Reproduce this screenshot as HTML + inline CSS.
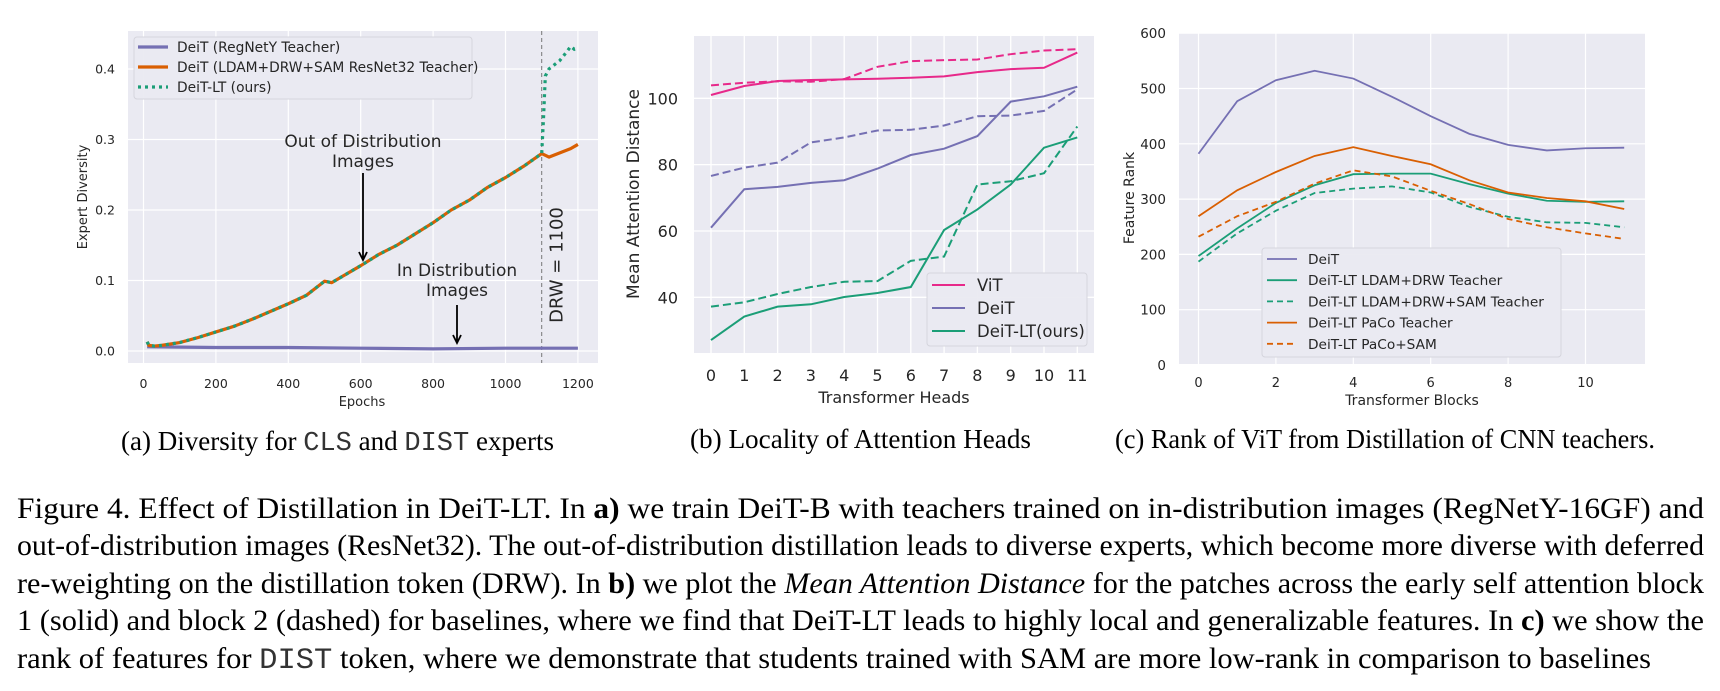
<!DOCTYPE html>
<html><head><meta charset="utf-8"><style>
html,body{margin:0;padding:0;background:#fff;}
svg{display:block;}
.tk{font-family:"DejaVu Sans","Liberation Sans",sans-serif;fill:#262626;}
.cap{font-family:"Liberation Serif",serif;fill:#000;}
.mono{font-family:"Liberation Mono",monospace;fill:#333;}
</style></head><body>
<svg id="fig" width="1720" height="691" viewBox="0 0 1720 691" xmlns="http://www.w3.org/2000/svg">
<g id="ga"></g>
<g id="gb"></g>
<g id="gc"></g>

<text class="cap" x="121" y="450" font-size="27" textLength="433" lengthAdjust="spacingAndGlyphs">(a) Diversity for <tspan class="mono">CLS</tspan> and <tspan class="mono">DIST</tspan> experts</text>
<text class="cap" x="690" y="448" font-size="27" textLength="341" lengthAdjust="spacingAndGlyphs">(b) Locality of Attention Heads</text>
<text class="cap" x="1115" y="448" font-size="27" textLength="540" lengthAdjust="spacingAndGlyphs">(c) Rank of ViT from Distillation of CNN teachers.</text>

<g font-size="29.5">
<text class="cap" x="17" y="518" textLength="1687" lengthAdjust="spacingAndGlyphs">Figure 4.  Effect of Distillation in DeiT-LT. In <tspan font-weight="bold">a)</tspan> we train DeiT-B with teachers trained on in-distribution images (RegNetY-16GF) and</text>
<text class="cap" x="17" y="555" textLength="1687" lengthAdjust="spacingAndGlyphs">out-of-distribution images (ResNet32). The out-of-distribution distillation leads to diverse experts, which become more diverse with deferred</text>
<text class="cap" x="17" y="593" textLength="1687" lengthAdjust="spacingAndGlyphs">re-weighting on the distillation token (DRW). In <tspan font-weight="bold">b)</tspan> we plot the <tspan font-style="italic">Mean Attention Distance</tspan> for the patches across the early self attention block</text>
<text class="cap" x="17" y="630" textLength="1687" lengthAdjust="spacingAndGlyphs">1 (solid) and block 2 (dashed) for baselines, where we find that DeiT-LT leads to highly local and generalizable features. In <tspan font-weight="bold">c)</tspan> we show the</text>
<text class="cap" x="17" y="668" textLength="1634" lengthAdjust="spacingAndGlyphs">rank of features for <tspan class="mono">DIST</tspan> token, where we demonstrate that students trained with SAM are more low-rank in comparison to baselines</text>
</g>
</svg>
<script>
// ---------- Chart A data ----------
const aEpochs = [10,15,30,50,100,150,200,250,300,350,400,450,500,520,550,600,650,700,750,800,850,900,950,1000,1050,1100];
const aShared = [0.013,0.008,0.007,0.008,0.012,0.019,0.027,0.035,0.045,0.056,0.067,0.079,0.099,0.097,0.106,0.121,0.137,0.150,0.166,0.182,0.200,0.214,0.232,0.246,0.262,0.280];
const aOrangeTailEpochs = [1100,1120,1150,1180,1200];
const aOrangeTail = [0.280,0.275,0.281,0.287,0.293];
const aGreenTailEpochs = [1100,1105,1110,1120,1150,1170,1180,1190,1200];
const aGreenTail = [0.285,0.330,0.390,0.400,0.412,0.425,0.432,0.428,0.430];
const aPurpleEpochs = [10,200,400,600,800,1000,1200];
const aPurple = [0.006,0.005,0.005,0.004,0.003,0.004,0.004];
const aXTicks = [0,200,400,600,800,1000,1200];
const aYTicks = [0.0,0.1,0.2,0.3,0.4];
const aLegend = ["DeiT (RegNetY Teacher)","DeiT (LDAM+DRW+SAM ResNet32 Teacher)","DeiT-LT (ours)"];

// ---------- Chart B data ----------
const bHeads = [0,1,2,3,4,5,6,7,8,9,10,11];
const bVitSolid = [101,103.7,105.2,105.5,105.7,105.9,106.2,106.6,107.9,108.8,109.2,113.8];
const bVitDashed = [103.9,104.7,105.1,105,105.8,109.5,111.2,111.5,111.7,113.3,114.4,114.8];
const bDeitSolid = [61,72.6,73.3,74.5,75.3,78.8,82.9,84.8,88.6,99,100.6,103.5];
const bDeitDashed = [76.6,79.1,80.6,86.7,88.2,90.3,90.5,91.8,94.6,94.8,96.2,102.7];
const bLtSolid = [27.1,34.2,37.2,37.9,40.1,41.3,43.1,60.3,66.5,74,85.1,88.2];
const bLtDashed = [37.2,38.5,41,43.1,44.7,44.9,51,52.3,74,75,77.4,91.5];
const bYTicks = [40,60,80,100];
const bLegend = ["ViT","DeiT","DeiT-LT(ours)"];

// ---------- Chart C data ----------
const cBlocks = [0,1,2,3,4,5,6,7,8,9,10,11];
const cDeit = [382,477,515,532,518,485,450,418,398,388,392,393];
const cLdam = [197,247,293,325,345,346,346,327,310,297,295,296];
const cLdamSam = [187,238,279,311,319,323,312,286,268,258,257,249];
const cPaco = [269,316,349,378,394,378,363,334,312,302,296,282];
const cPacoSam = [232,269,295,328,352,341,315,291,264,249,238,228];
const cXTicks = [0,2,4,6,8,10];
const cYTicks = [0,100,200,300,400,500,600];
const cLegend = ["DeiT","DeiT-LT LDAM+DRW Teacher","DeiT-LT LDAM+DRW+SAM Teacher","DeiT-LT PaCo Teacher","DeiT-LT PaCo+SAM"];

const NS = "http://www.w3.org/2000/svg";
function mk(tag, attrs, parent, txt){
  const e = document.createElementNS(NS, tag);
  for (const k in attrs) e.setAttribute(k, attrs[k]);
  if (txt !== undefined) e.textContent = txt;
  parent.appendChild(e);
  return e;
}
function pathD(xs, ys, sx, sy){
  return xs.map((x,i)=>(i?"L":"M")+sx(x).toFixed(2)+","+sy(ys[i]).toFixed(2)).join(" ");
}
const PURPLE="#7570b3", ORANGE="#d95f02", GREEN="#1b9e77", PINK="#e7298a", BG="#eaeaf2";

// ===== Chart A =====
(function(){
  const g = document.getElementById("ga");
  const L=128,R=598,T=31,B=363;
  const sx = v => 143.5 + v*0.362;
  const sy = v => 351 - v*705;
  const bg = mk("rect",{x:L,y:T,width:R-L,height:B-T,fill:BG},g);
  
  
  aXTicks.forEach(t=>{
    const l = mk("line",{x1:sx(t),x2:sx(t),y1:T,y2:B,stroke:"#fff","stroke-width":1.2},g);
    
    
    const tx = mk("text",{x:sx(t),y:388,"font-size":12.5,"text-anchor":"middle",class:"tk"},g,String(t));
    
    
  });
  aYTicks.forEach(t=>{
    const l = mk("line",{x1:L,x2:R,y1:sy(t),y2:sy(t),stroke:"#fff","stroke-width":1.2},g);
    
    
    const tx = mk("text",{x:115,y:sy(t)+4.5,"font-size":12.5,"text-anchor":"end",class:"tk"},g,t.toFixed(1));
    
    
  });
  const drw = mk("line",{x1:sx(1100),x2:sx(1100),y1:T,y2:B,stroke:"#777","stroke-width":1,"stroke-dasharray":"4 3"},g);
  
  
  const drwT = mk("text",{x:0,y:0,"font-size":18,"text-anchor":"middle",class:"tk",transform:`translate(${sx(1100)+21},265) rotate(-90)`},g,"DRW = 1100");
  
  

  const p = mk("path",{d:pathD(aPurpleEpochs,aPurple,sx,sy),fill:"none",stroke:PURPLE,"stroke-width":3.2,"stroke-linejoin":"round"},g);
  
  
  const oE = aEpochs.concat(aOrangeTailEpochs.slice(1)), oV = aShared.concat(aOrangeTail.slice(1));
  const o = mk("path",{d:pathD(oE,oV,sx,sy),fill:"none",stroke:ORANGE,"stroke-width":3.2,"stroke-linejoin":"round"},g);
  
  
  const gE = aEpochs.concat(aGreenTailEpochs.slice(1)), gV = aShared.concat(aGreenTail.slice(1));
  const gr = mk("path",{d:pathD(gE,gV,sx,sy),fill:"none",stroke:GREEN,"stroke-width":3.2,"stroke-dasharray":"3 4"},g);
  
  

  const ann = [["Out of Distribution",141],["Images",161]];
  ann.forEach(a=>{
    const t = mk("text",{x:363,y:a[1]+6,"font-size":17,"text-anchor":"middle",class:"tk",fill:"#111"},g,a[0]);
    
    
  });
  const ann2 = [["In Distribution",270],["Images",290]];
  ann2.forEach(a=>{
    const t = mk("text",{x:457,y:a[1]+6,"font-size":17,"text-anchor":"middle",class:"tk",fill:"#111"},g,a[0]);
    
    
  });
  [[363,173,260],[457,305,343]].forEach(a=>{
    const ar = mk("path",{d:`M${a[0]},${a[1]} L${a[0]},${a[2]} M${a[0]-4},${a[2]-8} L${a[0]},${a[2]} L${a[0]+4},${a[2]-8}`,stroke:"#000","stroke-width":1.8,fill:"none"},g);
    
    
  });

  const lg = mk("rect",{x:134,y:37,width:338,height:62,rx:3,fill:"#eaeaf2",stroke:"#d4d4dc","stroke-width":1,opacity:0.95},g);
  
  
  const cols=[PURPLE,ORANGE,GREEN];
  aLegend.forEach((s,i)=>{
    const y=47+i*20;
    const ln = mk("line",{x1:138,x2:168,y1:y,y2:y,stroke:cols[i],"stroke-width":3.2,"stroke-dasharray":i==2?"3 4":"none"},g);
    
    
    const t = mk("text",{x:177,y:y+5,"font-size":13.8,class:"tk"},g,s);
    
    
  });
  const xl = mk("text",{x:362,y:406,"font-size":13,"text-anchor":"middle",class:"tk"},g,"Epochs");
  
  
  const yl = mk("text",{x:0,y:0,"font-size":13,"text-anchor":"middle",class:"tk",transform:"translate(87,197) rotate(-90)"},g,"Expert Diversity");
  
  
})();

// ===== Chart B =====
(function(){
  const g = document.getElementById("gb");
  const L=694,R=1094,T=36,B=353;
  const sx = v => 711 + v*33.3;
  const sy = v => 98.3 + (100-v)*3.317;
  const bg = mk("rect",{x:L,y:T,width:R-L,height:B-T,fill:BG},g);
  
  
  bHeads.forEach(t=>{
    const l = mk("line",{x1:sx(t),x2:sx(t),y1:T,y2:B,stroke:"#fff","stroke-width":1.3},g);
    
    
    const tx = mk("text",{x:sx(t),y:381,"font-size":16,"text-anchor":"middle",class:"tk"},g,String(t));
    
    
  });
  bYTicks.forEach(t=>{
    const l = mk("line",{x1:L,x2:R,y1:sy(t),y2:sy(t),stroke:"#fff","stroke-width":1.3},g);
    
    
    const tx = mk("text",{x:678,y:sy(t)+6,"font-size":16,"text-anchor":"end",class:"tk"},g,String(t));
    
    
  });
  const series=[[bVitSolid,PINK,false,'vit-block1'],[bVitDashed,PINK,true,'vit-block2'],[bDeitSolid,PURPLE,false,'deit-block1'],[bDeitDashed,PURPLE,true,'deit-block2'],[bLtSolid,GREEN,false,'deit-lt-block1'],[bLtDashed,GREEN,true,'deit-lt-block2']];
  series.forEach(s=>{
    const p = mk("path",{d:pathD(bHeads,s[0],sx,sy),fill:"none",stroke:s[1],"stroke-width":2,"stroke-dasharray":s[2]?"8 4":"none"},g);
    
    
  });
  const lg = mk("rect",{x:927,y:273,width:160,height:73,rx:3,fill:"#eaeaf2",stroke:"#d4d4dc","stroke-width":1,opacity:0.95},g);
  
  
  const cols=[PINK,PURPLE,GREEN];
  bLegend.forEach((s,i)=>{
    const y=285+i*23;
    const ln = mk("line",{x1:932,x2:965,y1:y,y2:y,stroke:cols[i],"stroke-width":2},g);
    
    
    const t = mk("text",{x:977,y:y+6,"font-size":16.5,class:"tk"},g,s);
    
    
  });
  const xl = mk("text",{x:894,y:403,"font-size":16,"text-anchor":"middle",class:"tk"},g,"Transformer Heads");
  
  
  const yl = mk("text",{x:0,y:0,"font-size":17,"text-anchor":"middle",class:"tk",transform:"translate(639,194) rotate(-90)"},g,"Mean Attention Distance");
  
  
})();

// ===== Chart C =====
(function(){
  const g = document.getElementById("gc");
  const L=1179,R=1645,T=33,B=364;
  const sx = v => 1198.5 + v*38.7;
  const sy = v => 365 - v*0.553;
  const bg = mk("rect",{x:L,y:T,width:R-L,height:B-T,fill:BG},g);
  
  
  cXTicks.forEach(t=>{
    const l = mk("line",{x1:sx(t),x2:sx(t),y1:T,y2:B,stroke:"#fff","stroke-width":1.2},g);
    
    
    const tx = mk("text",{x:sx(t),y:387,"font-size":13,"text-anchor":"middle",class:"tk"},g,String(t));
    
    
  });
  cYTicks.forEach(t=>{
    const l = mk("line",{x1:L,x2:R,y1:sy(t),y2:sy(t),stroke:"#fff","stroke-width":1.2},g);
    
    
    const tx = mk("text",{x:1166,y:sy(t)+5,"font-size":13.5,"text-anchor":"end",class:"tk"},g,String(t));
    
    
  });
  const series=[[cDeit,PURPLE,false,'deit'],[cLdam,GREEN,false,'ldam-drw'],[cLdamSam,GREEN,true,'ldam-drw-sam'],[cPaco,ORANGE,false,'paco'],[cPacoSam,ORANGE,true,'paco-sam']];
  series.forEach(s=>{
    const p = mk("path",{d:pathD(cBlocks,s[0],sx,sy),fill:"none",stroke:s[1],"stroke-width":1.8,"stroke-dasharray":s[2]?"6 4":"none"},g);
    
    
  });
  const lg = mk("rect",{x:1262,y:248,width:299,height:109,rx:3,fill:"#eaeaf2",stroke:"#d4d4dc","stroke-width":1,opacity:0.95},g);
  
  
  const cols=[[PURPLE,false],[GREEN,false],[GREEN,true],[ORANGE,false],[ORANGE,true]];
  cLegend.forEach((s,i)=>{
    const y=259+i*21.2;
    const ln = mk("line",{x1:1267,x2:1297,y1:y,y2:y,stroke:cols[i][0],"stroke-width":1.8,"stroke-dasharray":cols[i][1]?"6 4":"none"},g);
    
    
    const t = mk("text",{x:1308,y:y+5,"font-size":13.7,class:"tk"},g,s);
    
    
  });
  const xl = mk("text",{x:1412,y:405,"font-size":14,"text-anchor":"middle",class:"tk"},g,"Transformer Blocks");
  
  
  const yl = mk("text",{x:0,y:0,"font-size":14,"text-anchor":"middle",class:"tk",transform:"translate(1134,198) rotate(-90)"},g,"Feature Rank");
  
  
})();
</script>
</body></html>
